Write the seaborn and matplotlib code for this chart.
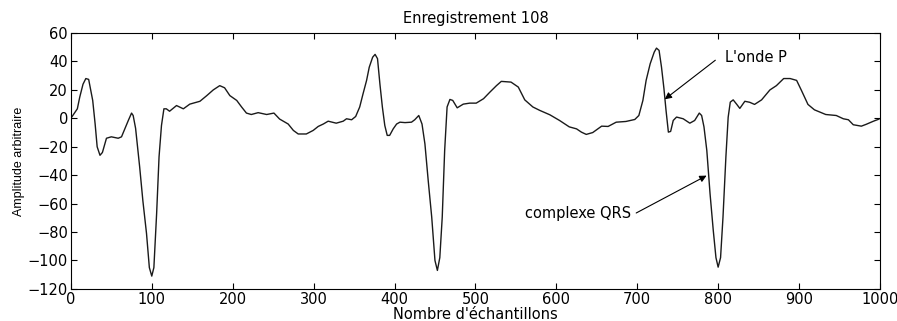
import matplotlib
matplotlib.use("Agg")
import matplotlib.pyplot as plt
import seaborn as sns
import pandas as pd

# ECG record 108: sample index and arbitrary amplitude
samples = [0, 8, 11, 15, 18.5, 22, 27, 30, 32.5, 36, 39, 44, 50, 58.5, 62.6, 67, 71, 75, 77, 80,
           85, 89, 93.5, 97, 100, 102.6, 106, 109, 112, 115, 118, 122, 130.6, 139, 147, 159.5,
           168, 176, 184, 190, 196.5, 205, 211, 217, 223, 231.5, 242, 251, 258, 268.6, 275, 281,
           291, 299.5, 305.7, 312, 318, 328, 336.6, 340.7, 347, 352, 357, 361, 365.5, 368.8, 373,
           376, 379, 382, 385, 388, 391, 394, 398.4, 402.6, 406.7, 413, 421, 425, 430, 434, 437.6,
           441.7, 446, 450, 453, 456, 459, 462, 465, 468.5, 472, 477.5, 485, 493, 501, 510, 518,
           526, 532, 544, 553, 561, 571, 579.5, 592, 604, 616, 625, 631, 637, 645, 656, 664, 674,
           686, 697, 702, 707, 711, 716, 721, 723.8, 727, 730, 733, 735.6, 738.5, 741.3, 744.5,
           748.6, 756.8, 765, 771, 776.7, 779.6, 782.5, 786, 790, 794, 797.3, 800, 803, 806,
           809.6, 812.4, 815, 818.6, 822.8, 826.8, 833, 839, 845, 853.7, 864, 872, 881, 889, 897,
           903, 911, 919, 933, 946, 954.7, 961, 967, 977, 983, 992, 999]
amplitude = [0, 6.7, 15, 24, 28, 27.4, 12.6, -4, -20, -26, -24, -14, -13, -14, -13, -7, -1.5, 3.7, 2, -7,
             -34, -58, -81, -105, -111, -105, -67, -27, -5, 6.7, 6.7, 5, 9, 6.7, 10, 12,
             16, 20, 23, 21.5, 16, 12.6, 8, 3.7, 2.7, 4, 2.7, 3.7, -0.5, -4, -8.5, -11,
             -11, -8.5, -5.7, -4, -2, -3.4, -2, -0.3, -1, 1.3, 8, 17, 26.7, 36, 43,
             45, 42, 24, 8, -5, -12, -12, -7.4, -4, -2.7, -3, -2.7, -1, 2, -4, -18,
             -44, -69.5, -100, -107, -98, -69.5, -22.6, 8, 13.3, 12.6, 7.4, 10, 10.7, 10.7, 13.8, 18.5,
             23, 26, 25.5, 22, 13, 8, 5.6, 2.5, -1.5, -6, -7.4, -9.7, -11.3, -10, -5.5, -5.7, -2.7,
             -2.2, -0.8, 2, 12.6, 26.7, 38.4, 46.6, 49.4, 47.8, 36, 21, 5.6, -9.7, -9.2, -1.5,
             0.9, -0.3, -3.4, -1.5, 3.7, 2, -6, -22.6, -53, -79, -98, -104.7, -98, -69.5,
             -27, 0.8, 11.4, 13, 10, 7, 12, 11.3, 9.8, 13, 20, 23, 28, 28, 26.7,
             19.6, 9.8, 6, 2.7, 2, -0.3, -1, -4.5, -5.5, -4.2, -2, -0.5]

x_ticks = [0, 100, 200, 300, 400, 500, 600, 700, 800, 900, 1000]
y_ticks = [-120, -100, -80, -60, -40, -20, 0, 20, 40, 60]

sns.set_theme(style="white")
plt.rcParams["font.family"] = ["DejaVu Sans"]
plt.rcParams.update({"text.color": "black", "axes.labelcolor": "black",
                     "xtick.color": "black", "ytick.color": "black"})
FS = 10.5

df = pd.DataFrame({"sample": samples, "amp": amplitude})

fig = plt.figure(figsize=(8.97, 3.21), dpi=100)
ax = fig.add_axes([0.079, 0.100, 0.902, 0.797])
sns.lineplot(data=df, x="sample", y="amp", ax=ax, color="#1a1a1a", linewidth=1.0,
             estimator=None, sort=False)

ax.set_xlim(0, 1000)
ax.set_ylim(-120, 60)
ax.set_xticks(x_ticks)
ax.set_yticks(y_ticks)
ax.tick_params(direction="in", length=4, width=0.8, labelsize=FS,
               top=True, right=True, bottom=True, left=True, pad=2)
for s in ax.spines.values():
    s.set_visible(True)
    s.set_color("black")
    s.set_linewidth(0.8)

ax.set_title("Enregistrement 108", fontsize=FS, pad=7)
ax.set_xlabel("Nombre d'échantillons", fontsize=FS, labelpad=0)
ax.set_ylabel("Amplitude arbitraire", fontsize=9,
              family=["Liberation Sans Narrow", "Liberation Sans"], labelpad=2)

arrow = dict(arrowstyle="-|>", color="black", lw=0.8, mutation_scale=10, shrinkA=0, shrinkB=0)
ax.annotate("L'onde P", xy=(734, 13.4), xytext=(808, 43), fontsize=FS,
            ha="left", va="center", arrowprops=dict(arrow, relpos=(-0.15, 0.3)))
ax.annotate("complexe QRS", xy=(785.7, -40.3), xytext=(561, -66.6), fontsize=FS,
            ha="left", va="center", arrowprops=dict(arrow, relpos=(1.05, 0.5)))

fig.savefig("out.png", dpi=100, facecolor="white")
